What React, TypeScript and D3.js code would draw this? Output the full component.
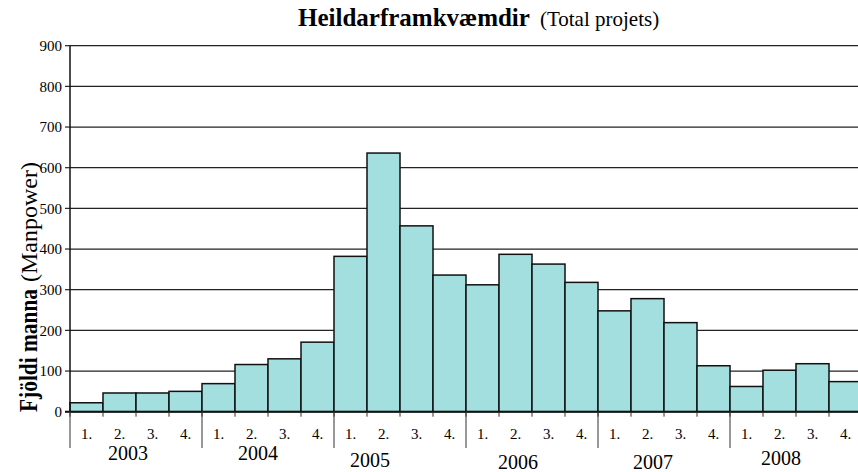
import React from "react";
import * as d3 from "d3";

const years = ["2003", "2004", "2005", "2006", "2007", "2008"];
const quarters = ["1.", "2.", "3.", "4."];
const values = [
  22, 46, 46, 50,
  69, 116, 130, 171,
  382, 636, 457, 336,
  312, 387, 363, 318,
  248, 278, 219, 113,
  62, 102, 118, 74,
];
const yTicks = [0, 100, 200, 300, 400, 500, 600, 700, 800, 900];
// small label nudges reproducing the reference's multi-level axis layout
const yearLabelDx = [-8, -10, -30, -14, -11, -15];
const yearLabelBaseline = [460, 460, 467, 469, 469, 465];

const W = 858;
const H = 472;
const left = 70;
const right = 862;
const top = 45.7;
const bottom = 411.7;
const FONT = "'Liberation Serif', 'Times New Roman', serif";
const ts = { fontFamily: FONT };

export default function App() {
  const cats = years.flatMap((y) => quarters.map((q) => `${y}-${q}`));
  const x = d3.scaleBand<string>().domain(cats).range([left, right]).padding(0);
  const y = d3.scaleLinear().domain([0, 900]).range([bottom, top]);
  const bw = x.bandwidth();

  return (
    <svg
      width={W}
      height={H}
      style={{ position: "absolute", left: 0, top: 0, background: "#fff", fontFamily: FONT }}
    >
      {/* title */}
      <text x={298} y={26} fill="#000" style={ts}>
        <tspan fontWeight="bold" fontSize={25}>Heildarframkvæmdir</tspan>
        <tspan fontSize={21} dx={10}>(Total projets)</tspan>
      </text>

      {/* gridlines */}
      {yTicks.filter((t) => t > 0).map((t) => (
        <line key={t} x1={left} x2={W} y1={y(t)} y2={y(t)} stroke="#222" strokeWidth={1.2} />
      ))}

      {/* y ticks and labels */}
      {yTicks.map((t) => (
        <g key={t}>
          <line x1={left - 5} x2={left} y1={y(t)} y2={y(t)} stroke="#222" strokeWidth={1.2} />
          <text x={left - 8} y={y(t)} dy="0.35em" textAnchor="end" fontSize={15} fill="#000" style={ts}>
            {t}
          </text>
        </g>
      ))}

      {/* bars */}
      {values.map((v, i) => (
        <rect
          key={i}
          x={x(cats[i])}
          y={y(v)}
          width={bw}
          height={bottom - y(v)}
          fill="#a4dfe0"
          stroke="#111"
          strokeWidth={1.5}
        />
      ))}

      {/* axes */}
      <line x1={left} x2={left} y1={top} y2={bottom} stroke="#111" strokeWidth={1.5} />
      <line x1={left - 5} x2={W} y1={bottom} y2={bottom} stroke="#111" strokeWidth={2} />

      {/* x ticks */}
      {cats.map((c) => (
        <line key={c} x1={x(c)} x2={x(c)} y1={bottom} y2={bottom + 5} stroke="#333" strokeWidth={1} />
      ))}
      {years.map((yr, gi) => {
        const gx = x(cats[gi * 4]) as number;
        return (
          <line key={yr} x1={gx} x2={gx} y1={bottom} y2={448} stroke="#333" strokeWidth={1} />
        );
      })}

      {/* quarter labels */}
      {cats.map((c, i) => (
        <text
          key={c}
          x={(x(c) as number) + bw / 2}
          y={439}
          textAnchor="middle"
          fontSize={15}
          fill="#000"
          style={ts}
        >
          {quarters[i % 4]}
        </text>
      ))}

      {/* year labels */}
      {years.map((yr, gi) => {
        const gx = (x(cats[gi * 4]) as number) + bw * 2 + yearLabelDx[gi];
        return (
          <text key={yr} x={gx} y={yearLabelBaseline[gi]} textAnchor="middle" fontSize={20} fill="#000" style={ts}>
            {yr}
          </text>
        );
      })}

      {/* y axis title */}
      <g transform="translate(37, 412) rotate(-90)">
        <text x={0} y={0} fontWeight="bold" fontSize={26} fill="#000" style={ts} textLength={123} lengthAdjust="spacingAndGlyphs">
          Fjöldi manna
        </text>
        <text x={130} y={0} fontSize={24} fill="#000" style={ts}>
          (Manpower)
        </text>
      </g>
    </svg>
  );
}
